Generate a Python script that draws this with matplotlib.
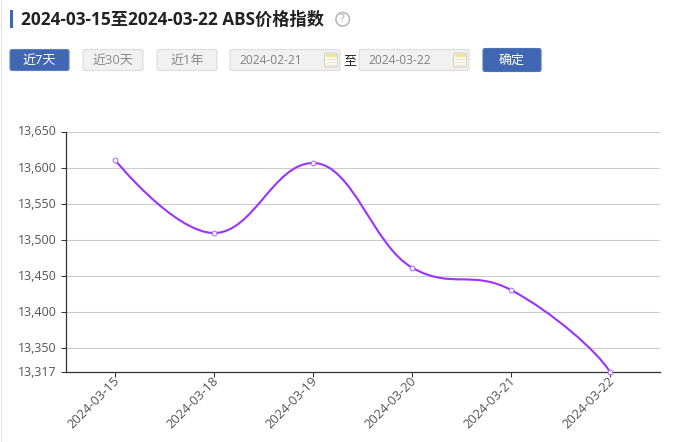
import matplotlib
matplotlib.use('Agg')
import matplotlib.pyplot as plt
from matplotlib.path import Path
from matplotlib.patches import PathPatch, FancyBboxPatch, Rectangle, Circle
from matplotlib.transforms import ScaledTranslation

dates = ['2024-03-15', '2024-03-18', '2024-03-19', '2024-03-20', '2024-03-21', '2024-03-22']
values = [13611, 13510, 13607, 13462, 13431, 13317]
y_ticks = [13317, 13350, 13400, 13450, 13500, 13550, 13600, 13650]
title = '2024-03-15至2024-03-22 ABS价格指数'
range_buttons = ['近7天', '近30天', '近1年']
date_from = '2024-02-21'
date_to = '2024-03-22'
confirm = '确定'

W, H = 673, 442
FONT = ['Open Sans', 'Noto Sans CJK SC', 'DejaVu Sans']
plt.rcParams['font.family'] = FONT
px = 0.72  # points per pixel at dpi=100
PURPLE = '#9a33ff'
BLUE = '#4267b2'


def spline_path(xs, ys, smoothing=1.5):
    """Bezier spline through the points with flattened extrema."""
    denom = smoothing + 1
    verts = [(xs[0], ys[0])]
    codes = [Path.MOVETO]
    prev_right = (xs[0], ys[0])
    n = len(xs)
    for i in range(1, n):
        x, y = xs[i], ys[i]
        lx, ly = xs[i - 1], ys[i - 1]
        if i < n - 1:
            nx, ny = xs[i + 1], ys[i + 1]
            lcx = (smoothing * x + lx) / denom
            lcy = (smoothing * y + ly) / denom
            rcx = (smoothing * x + nx) / denom
            rcy = (smoothing * y + ny) / denom
            corr = (rcy - lcy) * (rcx - x) / (rcx - lcx) + y - rcy
            lcy += corr
            rcy += corr
            if lcy > ly and lcy > y:
                lcy = max(ly, y)
                rcy = 2 * y - lcy
            elif lcy < ly and lcy < y:
                lcy = min(ly, y)
                rcy = 2 * y - lcy
            if rcy > ny and rcy > y:
                rcy = max(ny, y)
                lcy = 2 * y - rcy
            elif rcy < ny and rcy < y:
                rcy = min(ny, y)
                lcy = 2 * y - rcy
            right = (rcx, rcy)
            left = (lcx, lcy)
        else:
            # steeper arrival at the last point
            left = (x - 0.12 * (x - lx), y + 0.25 * (ly - y))
            right = (x, y)
        verts += [prev_right, left, (x, y)]
        codes += [Path.CURVE4, Path.CURVE4, Path.CURVE4]
        prev_right = right
    return Path(verts, codes)


fig = plt.figure(figsize=(W / 100, H / 100), dpi=100, facecolor='white')

bg = fig.add_axes([0, 0, 1, 1], zorder=0)
bg.set_xlim(0, W)
bg.set_ylim(H, 0)
bg.axis('off')


def box(x0, y0, x1, y1, fc, ec, r=2, **kw):
    bg.add_patch(FancyBboxPatch((x0 + r, y0 + r), x1 - x0 - 2 * r, y1 - y0 - 2 * r,
                                boxstyle=f'round,pad={r},rounding_size={r}',
                                fc=fc, ec=ec, lw=0.8, **kw))


def calendar(cx, cy):
    box(cx - 6.5, cy - 7, cx + 6.5, cy + 7, '#fbf9ee', '#d2d2c8', r=1.5)
    bg.add_patch(Rectangle((cx - 5.5, cy - 6.5), 11, 3, fc='#f5e48e', ec='none'))
    for dy in (-1, 2, 5):
        bg.plot([cx - 4, cx + 4], [cy + dy, cy + dy], color='#e6e3d2', lw=0.6)


bg.add_patch(Rectangle((1, 0), 1, H, fc='#e2e2e2', ec='none'))
bg.add_patch(Rectangle((10, 10), 3, 18, fc=BLUE, ec='none'))
bg.text(21, 20, title, fontsize=17.2 * px, fontweight='bold', color='#222222',
        va='center', ha='left')
bg.add_patch(Circle((342.7, 19.3), 6.8, fc='white', ec='#b5b5b5', lw=1.1))
bg.text(342.7, 19.3, '?', fontsize=11 * px, color='#a8a8a8', ha='center', va='center')

bx = [(10, 69), (83, 143), (157, 217)]
for i, (lab, (x0, x1)) in enumerate(zip(range_buttons, bx)):
    active = i == 0
    box(x0, 49.5, x1, 70.5, BLUE if active else '#f1f1f1', '#5f7fbf' if active else '#dddddd')
    bg.text((x0 + x1) / 2, 60, lab, fontsize=13 * px, ha='center', va='center',
            color='white' if active else '#8a8a8a')

box(230, 49.5, 340, 70.5, '#f1f1f1', '#dddddd')
bg.text(239, 60, date_from, fontsize=12 * px, color='#808080', ha='left', va='center')
calendar(331, 60)
bg.text(350, 60.5, '至', fontsize=13 * px, color='#222222', ha='center', va='center')
box(359, 49.5, 469, 70.5, '#f1f1f1', '#dddddd')
bg.text(368, 60, date_to, fontsize=12 * px, color='#808080', ha='left', va='center')
calendar(460, 60)
box(483, 48.5, 541, 71.5, BLUE, '#4f72b8')
bg.text(512, 60.5, confirm, fontsize=13 * px, color='white', ha='center', va='center')

L, R, T, B = 65.6, 659.6, 132, 372.3
ax = fig.add_axes([L / W, 1 - B / H, (R - L) / W, (B - T) / H], zorder=1)
ax.patch.set_alpha(0)
xs = list(range(len(dates)))
ax.set_xlim(-0.5, len(dates) - 0.5)
ax.set_ylim(y_ticks[0], y_ticks[-1])
ax.set_yticks(y_ticks)
ax.set_yticklabels([f'{v:,}' for v in y_ticks])
ax.set_xticks(xs)
ax.set_xticklabels(dates, rotation=45, ha='right', va='center', rotation_mode='anchor')
ax.tick_params(axis='y', length=3.6, width=0.75, color='#333333',
               labelsize=12.5 * px, labelcolor='#555555', pad=3)
ax.tick_params(axis='x', length=3.6, width=0.75, color='#333333',
               labelsize=13 * px, labelcolor='#555555', pad=1)
ax.grid(axis='y', color='#cccccc', lw=0.8)
ax.set_axisbelow(True)
for s in ('top', 'right'):
    ax.spines[s].set_visible(False)
for s in ('left', 'bottom'):
    ax.spines[s].set_color('#333333')
    ax.spines[s].set_linewidth(0.9)
for lab in ax.get_yticklabels():
    lab.set_transform(lab.get_transform() + ScaledTranslation(0, 1.5 / 100, fig.dpi_scale_trans))
for lab in ax.get_xticklabels():
    lab.set_transform(lab.get_transform() + ScaledTranslation(2.5 / 100, 0, fig.dpi_scale_trans))

ax.add_patch(PathPatch(spline_path(xs, values), fc='none', ec=PURPLE, lw=1.5,
                       clip_on=False, zorder=3))
ax.plot(xs, values, ls='none', marker='o', ms=3.4, mfc='white', mec='#b072ff', mew=0.8,
        clip_on=False, zorder=4)

fig.savefig('out.png', dpi=100)
